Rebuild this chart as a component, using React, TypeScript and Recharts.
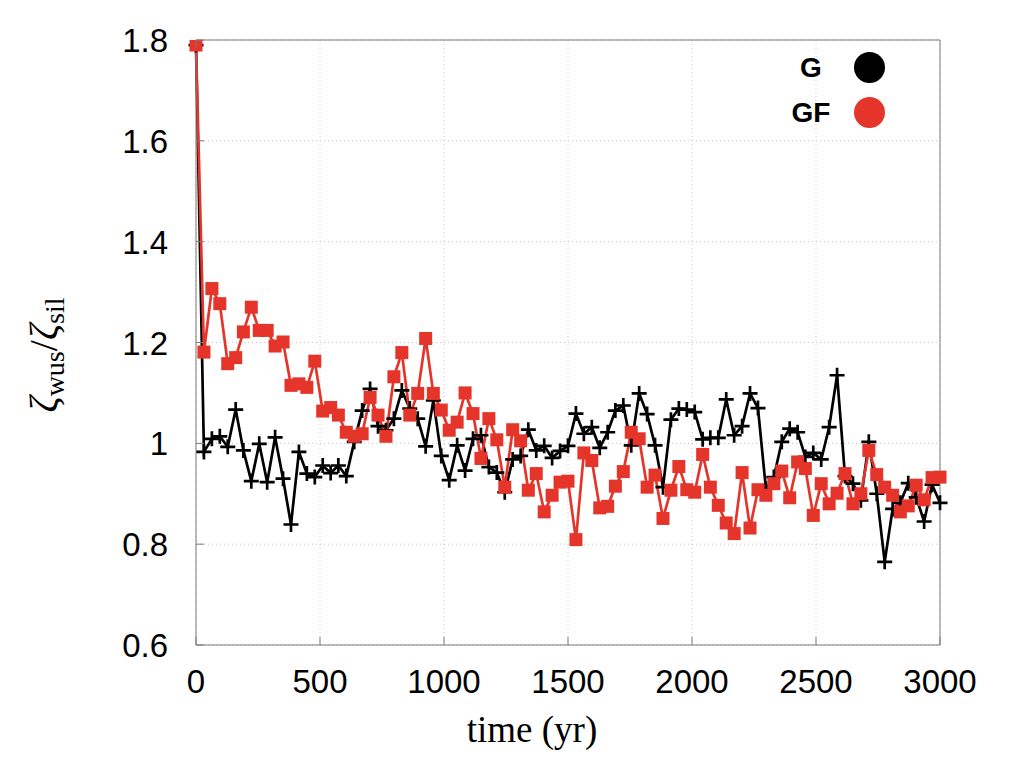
import { LineChart, Line, XAxis, YAxis, CartesianGrid, Legend } from "recharts"

// time axis (yr) of each saved snapshot
const TIMES = [
  0, 32, 64, 96, 128, 160, 191, 223, 255, 287,
  319, 351, 383, 415, 447, 479, 511, 543, 574, 606,
  638, 670, 702, 734, 766, 798, 830, 862, 894, 926,
  957, 989, 1021, 1053, 1085, 1117, 1149, 1181, 1213, 1245,
  1277, 1309, 1340, 1372, 1404, 1436, 1468, 1500, 1532, 1564,
  1596, 1628, 1660, 1691, 1723, 1755, 1787, 1819, 1851, 1883,
  1915, 1947, 1979, 2011, 2043, 2074, 2106, 2138, 2170, 2202,
  2234, 2266, 2298, 2330, 2362, 2394, 2426, 2457, 2489, 2521,
  2553, 2585, 2617, 2649, 2681, 2713, 2745, 2777, 2809, 2840,
  2872, 2904, 2936, 2968, 3000,
]

const G_VALUES = [
  1.79, 0.983, 1.009, 1.014, 0.993, 1.067, 0.986, 0.925, 0.999, 0.923,
  1.012, 0.93, 0.839, 0.983, 0.94, 0.933, 0.956, 0.941, 0.956, 0.935,
  1.003, 1.065, 1.108, 1.034, 1.026, 1.049, 1.105, 1.069, 1.049, 0.994,
  1.085, 0.975, 0.927, 0.996, 0.946, 1.009, 1.016, 0.953, 0.942, 0.903,
  0.968, 0.975, 1.027, 0.986, 0.995, 0.971, 0.985, 0.995, 1.059, 1.019,
  1.032, 0.991, 1.022, 1.065, 1.075, 0.996, 1.099, 1.058, 0.996, 0.913,
  1.047, 1.069, 1.067, 1.062, 1.008, 1.011, 1.011, 1.087, 1.016, 1.034,
  1.099, 1.07, 0.91, 0.933, 1.003, 1.029, 1.022, 0.973, 0.981, 0.968,
  1.032, 1.135, 0.935, 0.92, 0.887, 1.003, 0.9, 0.765, 0.87, 0.882,
  0.921, 0.893, 0.845, 0.918, 0.882,
]

const GF_VALUES = [
  1.79, 1.181, 1.307, 1.277, 1.158, 1.17, 1.221, 1.27, 1.224, 1.224,
  1.193, 1.201, 1.115, 1.118, 1.111, 1.163, 1.064, 1.071, 1.056, 1.022,
  1.014, 1.019, 1.091, 1.056, 1.014, 1.132, 1.18, 1.056, 1.099, 1.208,
  1.099, 1.066, 1.026, 1.042, 1.1, 1.059, 0.97, 1.049, 1.007, 0.913,
  1.027, 1.005, 0.907, 0.94, 0.864, 0.897, 0.923, 0.925, 0.809, 0.981,
  0.966, 0.872, 0.875, 0.915, 0.944, 1.022, 1.009, 0.913, 0.937, 0.851,
  0.907, 0.954, 0.908, 0.903, 0.978, 0.913, 0.877, 0.842, 0.821, 0.942,
  0.832, 0.908, 0.897, 0.92, 0.945, 0.892, 0.963, 0.95, 0.857, 0.92,
  0.88, 0.901, 0.94, 0.88, 0.9, 0.986, 0.938, 0.913, 0.897, 0.864,
  0.876, 0.917, 0.888, 0.932, 0.933,
]

const X_TICKS = [0, 500, 1000, 1500, 2000, 2500, 3000]
const Y_TICKS = [0.6, 0.8, 1, 1.2, 1.4, 1.6, 1.8]

const RED = "#e5352b"
const BORDER = "#7a7a7a"
const SANS = "'Liberation Sans', Arial, Helvetica, sans-serif"
const SERIF = "'Liberation Serif', 'Times New Roman', serif"

const data = TIMES.map((t, i) => ({ time: t, g: G_VALUES[i], gf: GF_VALUES[i] }))

const fmt = (v: number) => String(Number(v.toFixed(1)))

const BottomTick = ({ x, y, payload }: any) => (
  <g>
    <line x1={x} y1={y} x2={x} y2={y - 8} stroke={BORDER} />
    <text x={x} y={y + 48} textAnchor="middle" fontSize={33} fontFamily={SANS} fill="#000">
      {payload.value}
    </text>
  </g>
)

const TopTick = ({ x, y }: any) => <line x1={x} y1={y} x2={x} y2={y + 8} stroke={BORDER} />

const LeftTick = ({ x, y, payload }: any) => (
  <g>
    <line x1={x} y1={y} x2={x + 8} y2={y} stroke={BORDER} />
    <text x={x - 28} y={y} dy={12} textAnchor="end" fontSize={33} fontFamily={SANS} fill="#000">
      {fmt(payload.value)}
    </text>
  </g>
)

const RightTick = ({ x, y }: any) => <line x1={x} y1={y} x2={x - 8} y2={y} stroke={BORDER} />

const PlusDot = (props: any) => {
  const { cx, cy, index } = props
  return (
    <path
      key={`g-${index}`}
      d={`M${cx - 7.5},${cy}H${cx + 7.5}M${cx},${cy - 7.5}V${cy + 7.5}`}
      stroke="#000"
      strokeWidth={2.7}
      fill="none"
    />
  )
}

const SquareDot = (props: any) => {
  const { cx, cy, index } = props
  return <rect key={`gf-${index}`} x={cx - 6.5} y={cy - 6.5} width={13} height={13} fill={RED} />
}

const YLabel = () => (
  <text
    x={57}
    y={355}
    transform="rotate(-90 57 355)"
    textAnchor="middle"
    fontFamily={SERIF}
    fontSize={40}
    fill="#000"
  >
    <tspan fontStyle="italic">ζ</tspan>
    <tspan fontSize={28} dy={7}>wus</tspan>
    <tspan dy={-7}>/</tspan>
    <tspan fontStyle="italic">ζ</tspan>
    <tspan fontSize={28} dy={7}>sil</tspan>
  </text>
)

const XLabel = () => (
  <text x={532} y={742} textAnchor="middle" fontFamily={SERIF} fontSize={37} fill="#000">
    time (yr)
  </text>
)

const LegendBox = ({ payload }: any) => (
  <div>
    {(payload || []).map((entry: any) => (
      <div key={entry.value} style={{ display: "flex", alignItems: "center", height: 45 }}>
        <div
          style={{
            width: 82,
            textAlign: "center",
            fontFamily: SANS,
            fontWeight: "bold",
            fontSize: 28,
            color: "#000",
          }}
        >
          {entry.value}
        </div>
        <div
          style={{
            marginLeft: 2,
            width: 31,
            height: 31,
            borderRadius: "50%",
            background: entry.color,
          }}
        />
      </div>
    ))}
  </div>
)

export default function App() {
  return (
    <div style={{ position: "absolute", left: 0, top: 0, width: 1024, height: 768, background: "#fff" }}>
      <LineChart width={1024} height={768} data={data} margin={{ top: 0, right: 0, bottom: 0, left: 0 }}>
        <CartesianGrid stroke="#c4c4c4" strokeDasharray="1 3" />
        <XAxis
          dataKey="time"
          type="number"
          domain={[0, 3000]}
          ticks={X_TICKS}
          height={123}
          stroke={BORDER}
          tickLine={false}
          tickSize={0}
          tickMargin={0}
          tick={BottomTick}
          interval={0}
          label={{ content: XLabel }}
        />
        <XAxis
          xAxisId="top"
          orientation="top"
          type="number"
          domain={[0, 3000]}
          ticks={X_TICKS}
          height={40}
          stroke={BORDER}
          tickLine={false}
          tickSize={0}
          tickMargin={0}
          tick={TopTick}
          interval={0}
        />
        <YAxis
          type="number"
          domain={[0.6, 1.8]}
          ticks={Y_TICKS}
          width={196}
          stroke={BORDER}
          tickLine={false}
          tickSize={0}
          tickMargin={0}
          tick={LeftTick}
          interval={0}
          allowDataOverflow
          label={{ content: YLabel }}
        />
        <YAxis
          yAxisId="right"
          orientation="right"
          type="number"
          domain={[0.6, 1.8]}
          ticks={Y_TICKS}
          width={84}
          stroke={BORDER}
          tickLine={false}
          tickSize={0}
          tickMargin={0}
          tick={RightTick}
          interval={0}
        />
        <Legend
          layout="vertical"
          align="center"
          verticalAlign="middle"
          content={LegendBox}
          wrapperStyle={{ left: 770, top: 45, width: 120 }}
        />
        <Line
          name="G"
          dataKey="g"
          stroke="#000"
          strokeWidth={2.7}
          dot={PlusDot}
          activeDot={false}
          isAnimationActive={false}
        />
        <Line
          name="GF"
          dataKey="gf"
          stroke={RED}
          strokeWidth={2.7}
          dot={SquareDot}
          activeDot={false}
          isAnimationActive={false}
        />
      </LineChart>
    </div>
  )
}
